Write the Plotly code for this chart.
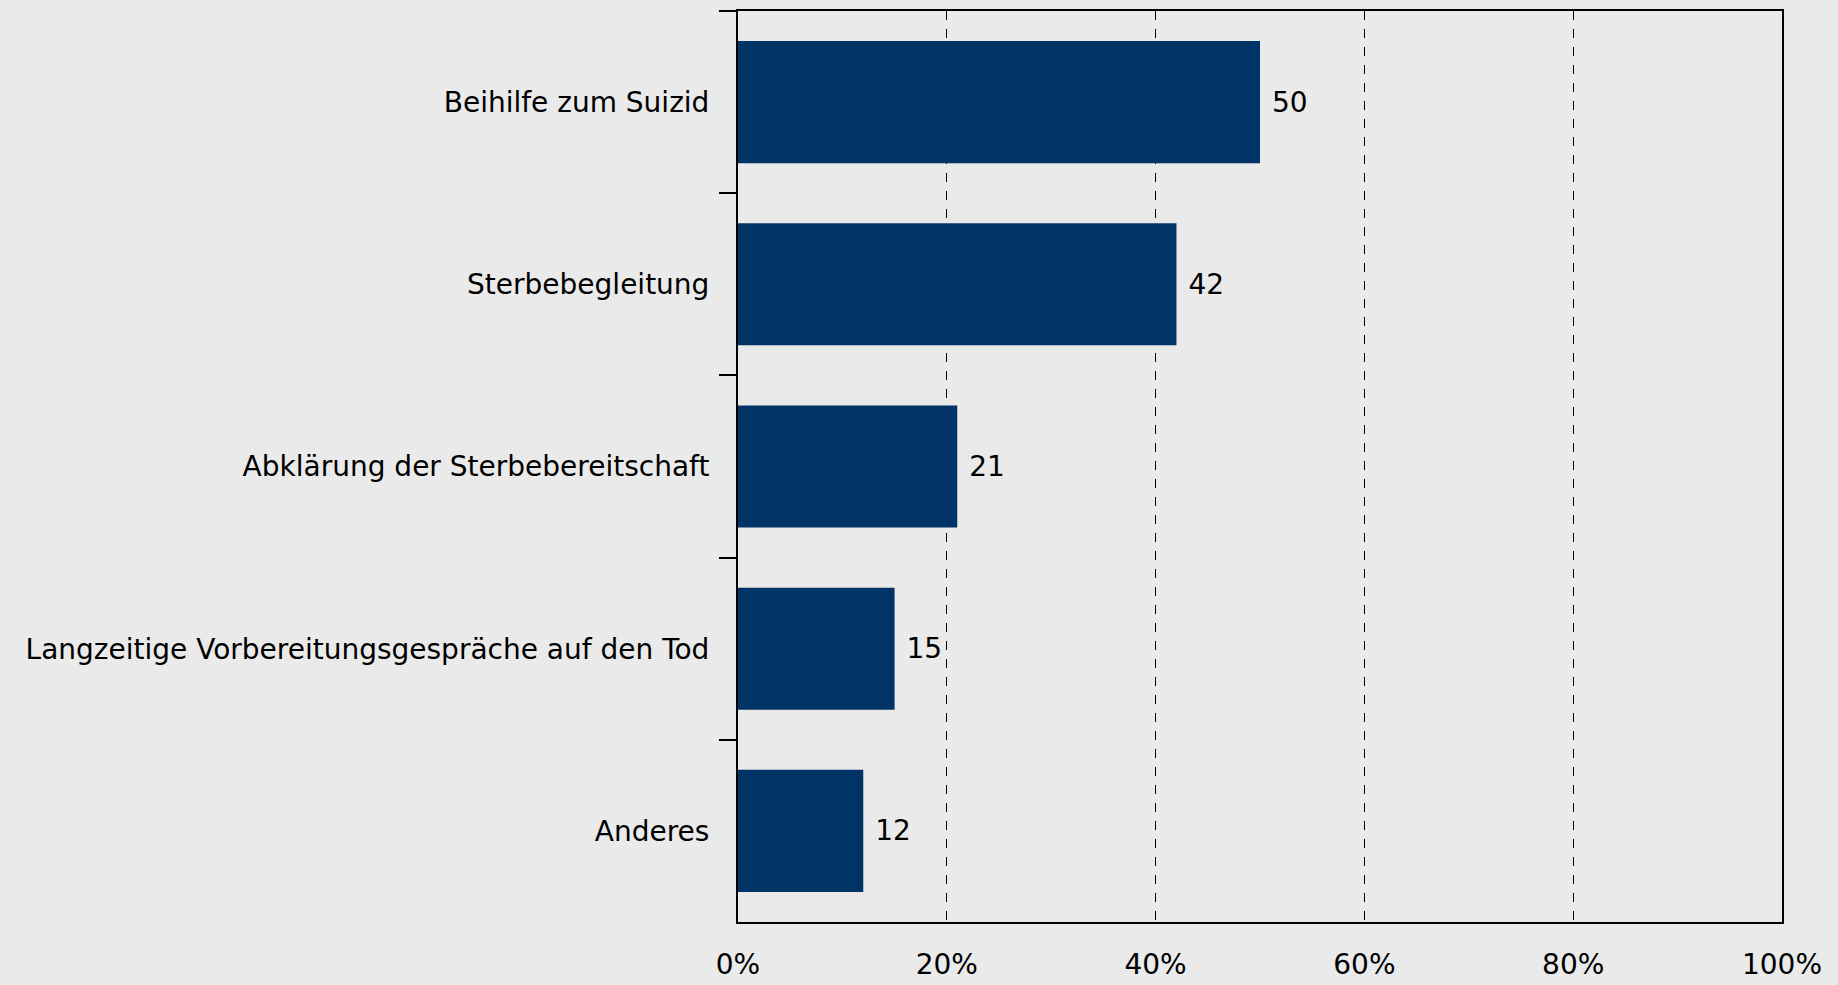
import plotly.graph_objects as go

categories = [
    "Beihilfe zum Suizid",
    "Sterbebegleitung",
    "Abklärung der Sterbebereitschaft",
    "Langzeitige Vorbereitungsgespräche auf den Tod",
    "Anderes",
]
values = [50, 42, 21, 15, 12]
x_ticks = [0, 20, 40, 60, 80, 100]
x_tick_labels = ["0%", "20%", "40%", "60%", "80%", "100%"]

FONT = "Tahoma, 'DejaVu Sans', 'Liberation Sans', sans-serif"
BG = "#EAEAEA"
BAR = "#003366"
FS = 28

fig = go.Figure(
    go.Bar(
        x=values,
        y=categories,
        orientation="h",
        marker=dict(color=BAR, line=dict(width=0)),
        text=[str(v) for v in values],
        texttemplate=" %{text}",
        textposition="outside",
        textfont=dict(family=FONT, size=FS, color="#000000"),
        cliponaxis=False,
        hoverinfo="skip",
    )
)

fig.update_layout(
    width=1838,
    height=985,
    paper_bgcolor=BG,
    plot_bgcolor=BG,
    margin=dict(l=738, r=56, t=11, b=63, pad=0, autoexpand=False),
    bargap=0.33,
    showlegend=False,
    font=dict(family=FONT, size=FS, color="#000000"),
)

fig.update_xaxes(
    range=[0, 100],
    tickvals=x_ticks,
    ticktext=x_tick_labels,
    showgrid=True,
    gridcolor="#000000",
    gridwidth=1,
    griddash="dash",
    zeroline=False,
    showline=True,
    linecolor="#000000",
    linewidth=2,
    mirror=True,
    ticks="",
    automargin=False,
    ticklabelstandoff=16,
    tickfont=dict(family=FONT, size=FS, color="#000000"),
)

fig.update_yaxes(
    autorange="reversed",
    showgrid=False,
    zeroline=False,
    showline=True,
    linecolor="#000000",
    linewidth=2,
    mirror=True,
    ticks="outside",
    tickson="boundaries",
    ticklen=17,
    tickwidth=1.5,
    tickcolor="#000000",
    automargin=False,
    ticklabelstandoff=21,
    tickfont=dict(family=FONT, size=FS, color="#000000"),
)

fig.write_html(
    "out.html",
    config={"displayModeBar": False},
    post_script="document.body.style.margin='0';document.body.style.padding='0';document.body.style.background='" + BG + "';",
)
